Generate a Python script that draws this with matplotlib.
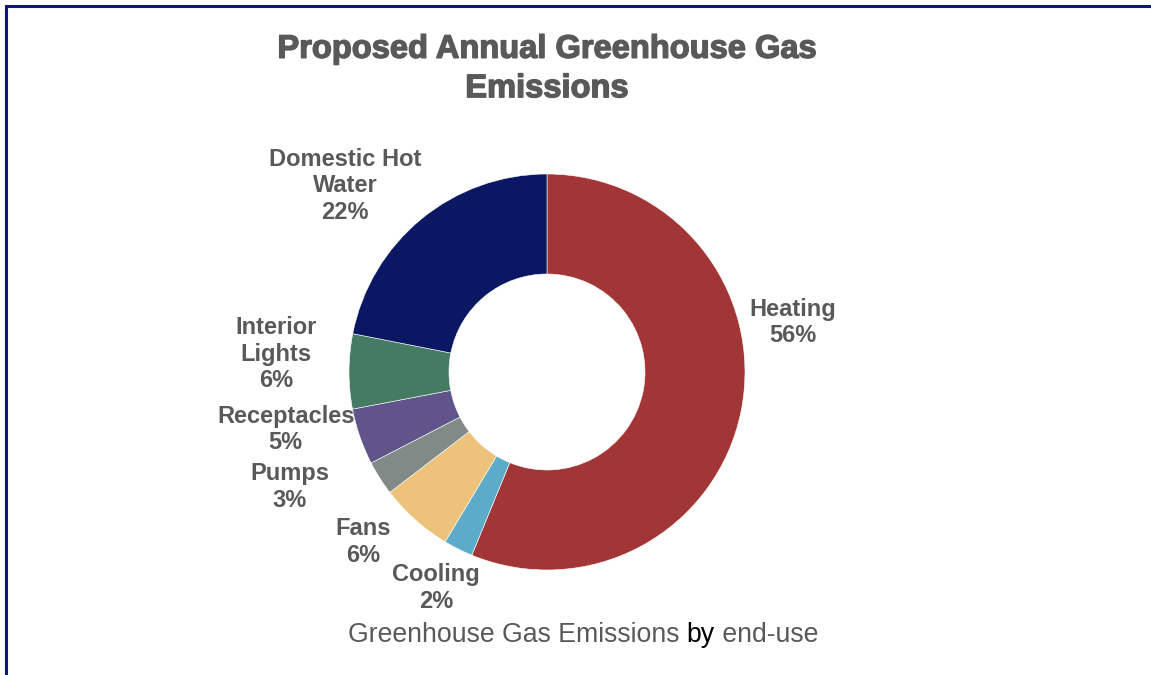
import matplotlib
matplotlib.use("Agg")
import matplotlib.pyplot as plt
import matplotlib.patheffects as pe
from matplotlib.patches import Rectangle

# end-use shares (percent), clockwise from 12 o'clock
categories = ["Heating", "Cooling", "Fans", "Pumps", "Receptacles",
              "Interior Lights", "Domestic Hot Water"]
shares = [56.2, 2.4, 6.0, 2.8, 4.6, 6.1, 21.9]
label_text = ["Heating", "Cooling", "Fans", "Pumps", "Receptacles",
              "Interior\nLights", "Domestic Hot\nWater"]
colors = ["#A23535", "#5CACC9", "#EDC27A", "#808A87", "#5F558A",
          "#457A63", "#0A1864"]
# label anchor offsets (in units of the outer radius)
label_pos = [(1.24, 0.25), (-0.56, -1.09), (-0.93, -0.86), (-1.30, -0.58),
             (-1.32, -0.29), (-1.37, 0.09), (-1.02, 0.94)]

W, H = 1151, 675
cx, cy, R = 547, 372, 198
gray = "#595959"
plt.rcParams['font.family'] = ['Liberation Sans', 'DejaVu Sans']

fig = plt.figure(figsize=(W / 100, H / 100), dpi=100)
ax = fig.add_axes([0, 0, 1, 1])

ax.pie(shares, colors=colors, startangle=90, counterclock=False, radius=1.0,
       wedgeprops=dict(width=0.505, edgecolor="white", linewidth=0.4))

ax.set_xlim(-cx / R, (W - cx) / R)
ax.set_ylim((cy - H) / R, cy / R)
ax.set_aspect('equal')
ax.axis('off')

for name, val, (lx, ly) in zip(label_text, shares, label_pos):
    ax.text(lx, ly, f"{name}\n{round(val):.0f}%", ha='center', va='center',
            multialignment='center', fontsize=17, fontweight='bold',
            color=gray, linespacing=1.2)

# title
fig.text(547 / W, 1 - 69 / H, "Proposed Annual Greenhouse Gas\nEmissions",
         ha='center', va='center', fontsize=23.5, fontweight='bold', color=gray,
         linespacing=1.35,
         path_effects=[pe.Stroke(linewidth=1.0, foreground=gray), pe.Normal()])

# subtitle with black "by"
parts = [("Greenhouse Gas Emissions ", gray), ("by", "black"), (" end-use", gray)]
fig.canvas.draw()
r = fig.canvas.get_renderer()
widths = []
for s, c in parts:
    t = fig.text(0, 0, s, fontsize=19.2)
    widths.append(t.get_window_extent(r).width)
    t.remove()
x = 583 - sum(widths) / 2
for (s, c), w in zip(parts, widths):
    fig.text(x / W, 1 - 635 / H, s, fontsize=19.2, color=c, ha='left', va='center')
    x += w

# frame
fig.patches.append(Rectangle((6 / W, -0.1), 1.2, (H - 6) / H + 0.1,
                             transform=fig.transFigure, fill=False,
                             edgecolor="#0D1B6E", linewidth=2.2))

fig.savefig("out.png", dpi=100)
